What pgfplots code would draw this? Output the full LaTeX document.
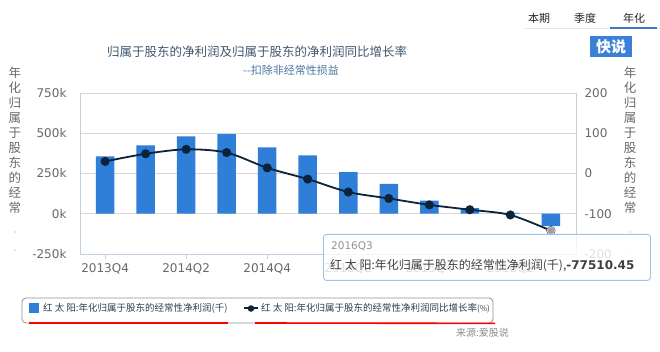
\documentclass[border=0pt]{standalone}
\usepackage{pgfplots}
\pgfplotsset{compat=1.18}
\usepackage{fontspec}
\setmainfont{Noto Sans CJK SC}
\newfontfamily\dejavu{DejaVu Sans}
\definecolor{barblue}{HTML}{2F7ED8}
\definecolor{navy}{HTML}{0D233A}
\definecolor{titlec}{HTML}{3E576F}
\definecolor{subc}{HTML}{4A74A0}
\definecolor{tickc}{HTML}{686868}
\definecolor{gridc}{HTML}{D8D8D8}
\definecolor{axisc}{HTML}{C0D0E0}
\definecolor{tipb}{HTML}{A0C2EA}
\definecolor{legt}{HTML}{2A3C52}
\definecolor{legb}{HTML}{909090}
\definecolor{kuai}{HTML}{3A7FD8}
\definecolor{tabline}{HTML}{3E7AC2}
\begin{document}
\begin{tikzpicture}[x=1pt,y=1pt]
\path[use as bounding box] (0,0) rectangle (660,352);
% tabs
\node[font=\fontsize{11}{12}\selectfont, text=black!85] at (539,334) {本期};
\node[font=\fontsize{11}{12}\selectfont, text=black!85] at (585,334) {季度};
\node[font=\fontsize{11}{12}\selectfont, text=black!85] at (634,334) {年化};
\draw[gray!20, line width=0.8pt] (525,324) -- (660,324);
\draw[tabline, line width=1.6pt] (610,324) -- (657,324);
\fill[kuai] (590,295) rectangle (632,316);
\node[font=\fontsize{15}{16}\selectfont\bfseries, text=white] at (611,305.5) {快说};
% titles
\node[font=\fontsize{12.5}{13}\selectfont, text=titlec] at (257,300) {归属于股东的净利润及归属于股东的净利润同比增长率};
\node[font=\fontsize{11}{12}\selectfont, text=subc, anchor=west, inner sep=0pt] at (243,282) {\hbox{-}\hbox{-}扣除非经常性损益};
% vertical labels
\foreach \c [count=\i from 0] in {年,化,归,属,于,股,东,的,经,常} {
  \node[font=\fontsize{12.5}{13}\selectfont, text=tickc, inner sep=0pt] at (15,352-73-15*\i) {\c};
  \node[font=\fontsize{12.5}{13}\selectfont, text=tickc, inner sep=0pt] at (630,352-73-15*\i) {\c};
}
\foreach \yy in {232,250} {
  \fill[tickc!70] (15,352-\yy) circle (0.6);
  \fill[tickc!70] (630,352-\yy) circle (0.6);
}
\begin{axis}[
  at={(80pt,98pt)}, anchor=south west, scale only axis,
  width=496pt, height=161pt,
  xmin=-0.62, xmax=11.62, ymin=-250000, ymax=750000,
  axis line style={draw=none},
  ymajorgrids, grid style={color=gridc, line width=0.8pt},
  ytick={-250000,0,250000,500000,750000},
  yticklabels={-250k,0k,250k,500k,750k},
  ytick pos=left, ytick style={draw=none},
  xtick={0,2,4,6,8,10},
  xticklabels={2013Q4,2014Q2,2014Q4,2015Q2,2015Q4,2016Q2},
  xtick pos=lower, tick align=outside, major tick length=5pt,
  xtick style={color=axisc, line width=0.8pt},
  ticklabel style={font=\dejavu\fontsize{12}{12}\selectfont, text=tickc},
  yticklabel style={xshift=-5pt},
  xticklabel style={yshift=-1pt},
  scaled y ticks=false,
]
\addplot[ybar, bar width=18.5pt, fill=barblue, draw=none] coordinates {
(0,356000) (1,425000) (2,481000) (3,494000) (4,412000) (5,362000)
(6,258000) (7,185000) (8,81000) (9,35000) (10,5000) (11,-77510.45)};
\end{axis}
\draw[axisc, line width=0.9pt] (80,259) -- (80,98) -- (576,98) -- (576,259);
\begin{axis}[
  at={(80pt,98pt)}, anchor=south west, scale only axis,
  width=496pt, height=161pt,
  xmin=-0.62, xmax=11.62, ymin=-200, ymax=200,
  axis line style={draw=none},
  xtick=\empty,
  ytick={-200,-100,0,100,200},
  yticklabels={-200,-100,0,100,200},
  ytick pos=right, yticklabel pos=right, ytick style={draw=none},
  ticklabel style={font=\dejavu\fontsize{12}{12}\selectfont, text=tickc},
  yticklabel style={anchor=west, xshift=5pt},
  clip=false,
]
\addplot[navy, line width=1.8pt, smooth, tension=0.5, mark=*, mark size=3.6pt, mark options={fill=navy, draw=navy}] coordinates {
(0,30) (1,49) (2,60) (3,52) (4,14) (5,-14) (6,-46) (7,-62) (8,-78) (9,-90) (10,-103) (11,-142)};
\addplot[only marks, mark=*, mark size=3.8pt, mark options={fill=gray!75, draw=white!70!gray, line width=0.6pt}] coordinates {(11,-142)};
\end{axis}
% tooltip
\node[draw=tipb, fill=white, fill opacity=0.8, rounded corners=3pt, line width=0.9pt, minimum width=327pt, minimum height=46pt, anchor=north west, inner sep=0pt] at (323,118) {};
\node[font=\dejavu\fontsize{10.5}{11}\selectfont, text=gray!85, anchor=west, inner sep=0pt] at (331,106) {2016Q3};
\node[font=\fontsize{12}{13}\selectfont, text=black!75, anchor=west, inner sep=0pt] at (330,86) {红 太 阳:年化归属于股东的经常性净利润(千),{\dejavu\bfseries -77510.45}};
% legend
\draw[legb, rounded corners=4pt, line width=0.8pt] (22,54) rectangle (493,29);
\fill[barblue] (29,49) rectangle (39,39);
\node[font=\fontsize{9.5}{11}\selectfont, text=legt, anchor=west, inner sep=0pt] at (43,43.5) {红 太 阳:年化归属于股东的经常性净利润(千)};
\draw[navy, line width=2pt] (244,43.5) -- (258,43.5);
\fill[navy] (251,43.5) circle (3.3);
\node[font=\fontsize{9.5}{11}\selectfont, text=legt, anchor=west, inner sep=0pt] at (261,43.5) {红 太 阳:年化归属于股东的经常性净利润同比增长率{\fontsize{8}{9}\selectfont(\%)}};
\draw[red, line width=2.2pt] (29,29.3) -- (228,29.3);
\draw[red, line width=1.6pt] (255,29) -- (495,28.6);
\node[font=\fontsize{10}{11}\selectfont, text=gray!90, anchor=east, inner sep=0pt] at (509,19) {来源:爱股说};
\end{tikzpicture}
\end{document}
